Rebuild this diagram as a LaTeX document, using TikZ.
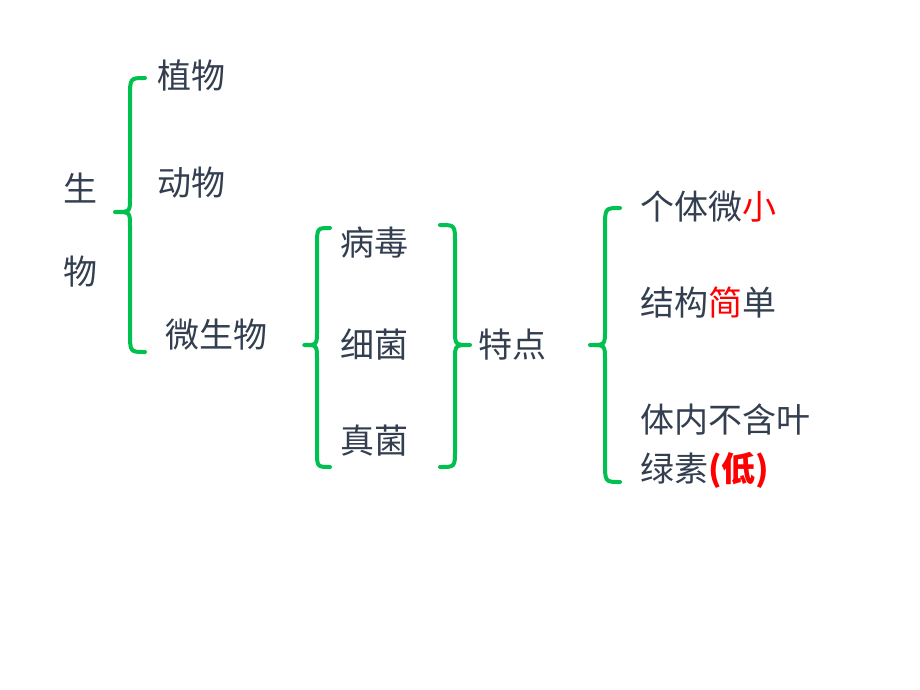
\documentclass[tikz,border=0pt]{standalone}
\usepackage{fontspec}
\setmainfont{Noto Sans CJK SC}
\newfontfamily\cjk{Noto Sans CJK SC}
\definecolor{txt}{HTML}{333F50}
\definecolor{grn}{HTML}{00C050}
\definecolor{rd}{HTML}{FF0000}
\begin{document}
\begin{tikzpicture}[x=1pt,y=-1pt,
  lbl/.style={text=txt,font=\fontsize{34}{40}\selectfont\cjk,inner sep=0pt},
  brc/.style={draw=grn,line width=4pt,line cap=round,line join=round}]
\fill[white] (0,0) rectangle (920,690);
\node[lbl] (s1) at (80,188) {生};
\node[lbl] (s2) at (80,272) {物};
\node[lbl,anchor=west] (zw) at (157,75) {植物};
\node[lbl,anchor=west] (dw) at (157,183) {动物};
\node[lbl,anchor=west] (ws) at (165,335) {微生物};
\node[lbl,anchor=west] (bd) at (340,243) {病毒};
\node[lbl,anchor=west] (xj) at (340,345) {细菌};
\node[lbl,anchor=west] (zj) at (340,441) {真菌};
\node[lbl,anchor=west] (td) at (478,345) {特点};
\node[lbl,anchor=west] (a1) at (640,207) {个体微\textcolor{rd}{小}};
\node[lbl,anchor=west] (a2) at (640,303) {结构\textcolor{rd}{简}单};
\node[lbl,anchor=west] (a3) at (640,420) {体内不含叶};
\node[lbl,anchor=west] (a4) at (640,470) {绿素\textcolor{rd}{\bfseries(低)}};
% braces
\draw[brc] (145,78) .. controls (130,78) .. (130,98) -- (130,198) .. controls (130,212) .. (115,212) .. controls (130,212) .. (130,226) -- (130,332) .. controls (130,352) .. (145,352);
\draw[brc] (330,228) .. controls (317,228) .. (317,246) -- (317,330) .. controls (317,345) .. (304,345) .. controls (317,345) .. (317,360) -- (317,450) .. controls (317,467) .. (330,467);
\draw[brc] (440,225) .. controls (455,225) .. (455,243) -- (455,330) .. controls (455,345) .. (470,345) .. controls (455,345) .. (455,360) -- (455,450) .. controls (455,467) .. (440,467);
\draw[brc] (620,208) .. controls (605,208) .. (605,228) -- (605,330) .. controls (605,345) .. (590,345) .. controls (605,345) .. (605,360) -- (605,462) .. controls (605,482) .. (620,482);
\end{tikzpicture}
\end{document}
